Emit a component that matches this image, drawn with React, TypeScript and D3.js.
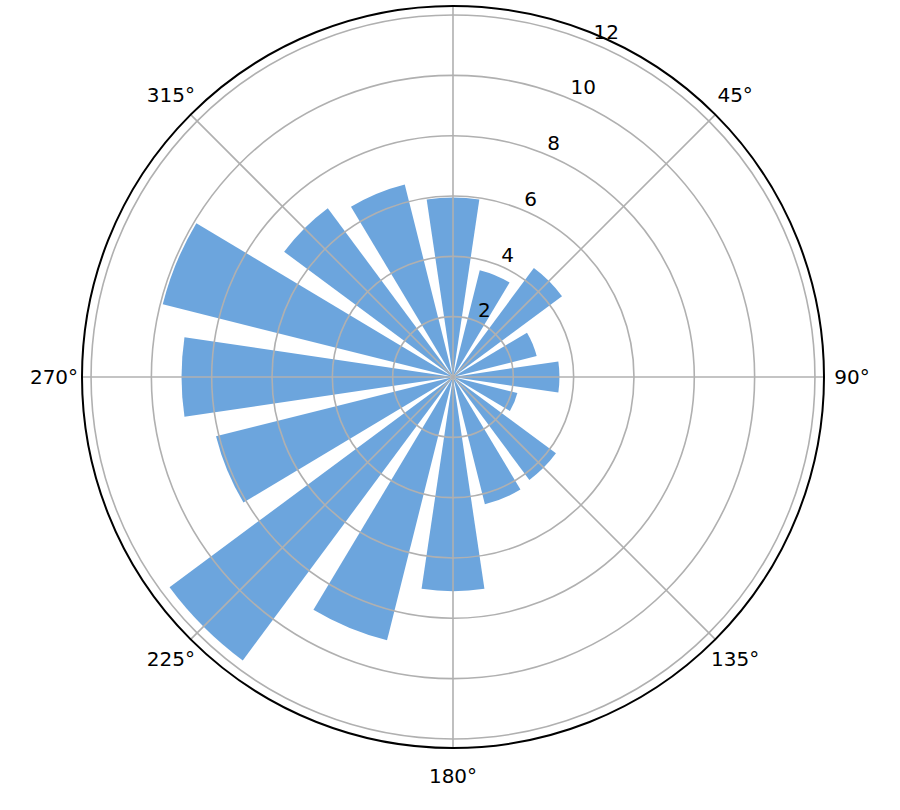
import * as d3 from "d3"

const W = 900
const H = 810

// bar directions (degrees, clockwise from north) and lengths
const directions = [0, 22.5, 45, 67.5, 90, 112.5, 135, 157.5, 180, 202.5, 225, 247.5, 270, 292.5, 315, 337.5]
const values = [5.95, 3.65, 4.5, 2.86, 3.53, 2.2, 4.25, 4.35, 7.1, 9.0, 11.7, 8.1, 9.0, 9.92, 6.97, 6.58]
const radialTicks = [2, 4, 6, 8, 10, 12]
const angleTicks = [0, 45, 90, 135, 180, 225, 270, 315]

const cx = 453
const cy = 377
const R = 371
const rMax = 12.3
const barWidth = (2 * Math.PI / 16) * 0.75

const font = "DejaVu Sans, sans-serif"

export default function App() {
  const r = d3.scaleLinear().domain([0, rMax]).range([0, R])
  const rad = (deg: number) => (deg * Math.PI) / 180

  const arc = d3.arc<{ a: number; v: number }>()
    .innerRadius(0)
    .outerRadius((d) => r(d.v))
    .startAngle((d) => rad(d.a) - barWidth / 2)
    .endAngle((d) => rad(d.a) + barWidth / 2)

  const bars = directions.map((a, i) => ({ a, v: values[i] }))
  const labelAngle = rad(22.5)

  return (
    <svg
      width={W}
      height={H}
      viewBox={`0 0 ${W} ${H}`}
      style={{ position: "absolute", left: 0, top: 0, background: "#fff" }}
    >
      <g transform={`translate(${cx},${cy})`}>
        {bars.map((b) => (
          <path key={b.a} d={arc(b) ?? ""} fill="#6ca5dd" />
        ))}

        {radialTicks.map((t) => (
          <circle key={t} r={r(t)} fill="none" stroke="#b0b0b0" strokeWidth={1.6} />
        ))}
        {angleTicks.map((a) => (
          <line
            key={a}
            x1={0}
            y1={0}
            x2={R * Math.sin(rad(a))}
            y2={-R * Math.cos(rad(a))}
            stroke="#b0b0b0"
            strokeWidth={1.6}
          />
        ))}

        <circle r={R} fill="none" stroke="#000" strokeWidth={2} />

        {angleTicks.map((a) => (
          <text
            key={a}
            x={399 * Math.sin(rad(a))}
            y={-399 * Math.cos(rad(a))}
            dy="0.36em"
            textAnchor="middle"
            fontFamily={font}
            fontSize={20}
          >
            {a}°
          </text>
        ))}

        {radialTicks.map((t) => (
          <text
            key={t}
            x={r(t) * Math.sin(labelAngle) + 2}
            y={-r(t) * Math.cos(labelAngle) - 4}
            textAnchor="start"
            fontFamily={font}
            fontSize={20}
          >
            {t}
          </text>
        ))}
      </g>
    </svg>
  )
}
